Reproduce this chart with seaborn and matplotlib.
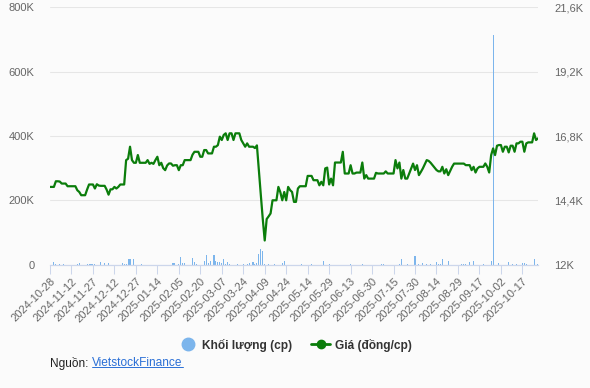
import matplotlib
matplotlib.use("Agg")
import matplotlib.pyplot as plt
import seaborn as sns
import numpy as np
from matplotlib.lines import Line2D

# tick labels shown on the x axis (one every 11 sessions)
tick_labels = ["2024-10-28", "2024-11-12", "2024-11-27", "2024-12-12", "2024-12-27",
               "2025-01-14", "2025-02-05", "2025-02-20", "2025-03-07", "2025-03-24",
               "2025-04-09", "2025-04-24", "2025-05-14", "2025-05-29", "2025-06-13",
               "2025-06-30", "2025-07-15", "2025-07-30", "2025-08-14", "2025-08-29",
               "2025-09-17", "2025-10-02", "2025-10-17"]
tick_step = 11

# closing price (dong/cp), one value per session
price = [
    14900, 14900, 14900, 15110, 15110, 15100, 15025, 15025, 15025, 14925,
    14925, 14925, 14925, 14925, 14775, 14710, 14590, 14590, 14590, 14800,
    14990, 14990, 14990, 14840, 15000, 14950, 14940, 14940, 14940, 14800,
    14610, 14810, 14810, 14900, 14840, 14900, 14990, 14990, 14990, 15900,
    15950, 16400, 15900, 15800, 15800, 16090, 15800, 15800, 15800, 15800,
    15900, 15760, 15800, 15760, 15900, 16025, 15710, 15800, 15600, 15525,
    15700, 15775, 15775, 15690, 15710, 15710, 15525, 15710, 15710, 15900,
    15900, 15900, 15900, 16100, 16210, 16210, 16210, 16025, 16025, 16275,
    16275, 16150, 16150, 16150, 16400, 16400, 16460, 16775, 16650, 16840,
    16900, 16650, 16900, 16900, 16650, 16900, 16900, 16900, 16650, 16525,
    16400, 16525, 16400, 16400, 16400, 16350, 16450, 15500, 14600, 13700,
    12900, 13700, 13800, 13910, 14400, 14400, 14400, 14900, 14700, 14400,
    14710, 14400, 14900, 14780, 14710, 14340, 14340, 14840, 14925, 14925,
    14925, 14925, 15310, 15310, 15310, 15150, 15150, 15150, 14960, 15090,
    14960, 15590, 15620, 14990, 15210, 14960, 15810, 15810, 15810, 15810,
    16210, 15400, 15400, 15400, 15710, 15400, 15400, 15435, 15435, 15435,
    15810, 15210, 15340, 15210, 15210, 15210, 15210, 15425, 15400, 15400,
    15400, 15400, 15480, 15400, 15400, 15400, 15400, 15900, 15590, 15810,
    15210, 15530, 15210, 15210, 15400, 15590, 15770, 15530, 15710, 15340,
    15460, 15590, 15750, 15900, 15870, 15800, 15710, 15620, 15530, 15480,
    15480, 15650, 15400, 15560, 15340, 15500, 15650, 15770, 15770, 15770,
    15770, 15770, 15770, 15712, 15712, 15712, 15525, 15650, 15437, 15590,
    15650, 15650, 15650, 15775, 15650, 15437, 16087, 16337, 16087, 16437,
    16462, 16462, 16212, 16400, 16400, 16187, 16437, 16437, 16212, 16525,
    16525, 16587, 16587, 16212, 16525, 16562, 16562, 16562, 16900, 16650,
    16712,
]

# traded volume, thousands of shares (0 = too small to see)
volume_k = [
    0, 0, 9, 3, 0, 3, 0, 3, 0, 0,
    0, 0, 0, 0, 3, 6, 0, 0, 0, 3,
    3, 3, 3, 3, 0, 0, 9, 0, 6, 0,
    6, 0, 0, 0, 0, 0, 0, 6, 3, 3,
    16, 16, 0, 16, 0, 0, 0, 3, 0, 0,
    0, 0, 0, 0, 0, 0, 0, 0, 0, 0,
    0, 0, 0, 6, 6, 0, 3, 25, 6, 6,
    0, 0, 0, 19, 9, 3, 0, 0, 0, 12,
    31, 6, 12, 0, 31, 12, 9, 9, 6, 16,
    3, 9, 3, 0, 0, 0, 3, 0, 0, 3,
    0, 3, 6, 0, 9, 3, 6, 34, 50, 41,
    3, 0, 3, 0, 0, 3, 0, 0, 0, 6,
    12, 0, 0, 0, 0, 0, 0, 0, 0, 3,
    0, 0, 0, 0, 3, 0, 0, 0, 0, 0,
    12, 0, 0, 3, 0, 0, 0, 0, 0, 0,
    0, 0, 0, 0, 3, 0, 0, 0, 0, 0,
    3, 0, 0, 0, 0, 0, 0, 0, 0, 0,
    3, 3, 0, 0, 0, 0, 0, 0, 0, 3,
    16, 0, 0, 3, 0, 0, 0, 28, 0, 3,
    0, 6, 0, 3, 0, 3, 0, 0, 9, 3,
    3, 16, 0, 0, 12, 0, 0, 0, 0, 0,
    0, 3, 3, 3, 0, 9, 0, 12, 0, 0,
    0, 0, 3, 0, 0, 0, 12, 715, 0, 0,
    6, 0, 0, 0, 0, 9, 0, 3, 0, 3,
    0, 0, 6, 6, 3, 0, 0, 0, 16, 0,
    3,
]

vol_ticks = [0, 200000, 400000, 600000, 800000]
vol_tick_labels = ["0", "200K", "400K", "600K", "800K"]
price_ticks = [12000, 14400, 16800, 19200, 21600]
price_tick_labels = ["12K", "14,4K", "16,8K", "19,2K", "21,6K"]

bg = "#fbfbfb"
green = "#0b7d0b"
blue = "#7cb5ec"
axis_col = "#ccd6eb"

sns.set_theme(style="white")
plt.rcParams["font.family"] = ["Liberation Sans", "DejaVu Sans"]

idx = np.arange(len(price))
volume = np.array(volume_k) * 1000

fig = plt.figure(figsize=(5.9, 3.88), dpi=100, facecolor=bg)
ax = fig.add_axes([50 / 590, 1 - 264.6 / 388, 488 / 590, (264.6 - 7.4) / 388])
ax.set_facecolor(bg)
ax2 = ax.twinx()

# volume bars on the left axis
ax.bar(idx, volume, width=0.55, color=blue, linewidth=0, antialiased=False, zorder=2)
ax.set_ylim(0, 800000)
ax.set_yticks(vol_ticks)
ax.set_yticklabels(vol_tick_labels)
ax.grid(axis="y", color="#e6e6e6", linewidth=0.75, zorder=0)
ax.set_axisbelow(True)

# price line on the right axis
sns.lineplot(x=idx, y=price, ax=ax2, color=green, linewidth=1.6)
ax2.set_ylim(12000, 21600)
ax2.set_yticks(price_ticks)
ax2.set_yticklabels(price_tick_labels)

ax.set_xlim(0, len(price) - 1)
ax.set_xticks(idx[::tick_step][:len(tick_labels)])
ax.set_xticklabels(tick_labels, rotation=45, ha="right", va="top",
                   rotation_mode="anchor")

for a in (ax, ax2):
    for s in a.spines.values():
        s.set_visible(False)
    a.set_xlabel("")
    a.set_ylabel("")
ax.spines["bottom"].set_visible(True)
ax.spines["bottom"].set_color(axis_col)
ax.spines["bottom"].set_linewidth(0.9)

ax.tick_params(axis="x", length=6.5, width=0.75, color=axis_col, colors="#666666",
               labelsize=8, pad=2, bottom=True)
ax.tick_params(axis="x", color=axis_col)
ax.tick_params(axis="y", length=0, pad=11, labelsize=8, labelcolor="#666666")
ax2.tick_params(axis="y", length=0, pad=11.5, labelsize=8, labelcolor="#666666")

# legend
handles = [
    Line2D([], [], marker="o", linestyle="none", markersize=9, color=blue),
    Line2D([], [], marker="o", markersize=6, color=green, linewidth=2),
]
fig.legend(handles, ["Khối lượng (cp)", "Giá (đồng/cp)"], loc="center",
           bbox_to_anchor=(0.5, 1 - 345 / 388), ncol=2, frameon=False,
           prop={"weight": "bold", "size": 8.6}, labelcolor="#333333",
           handlelength=1.6, handletextpad=0.4, columnspacing=1.6)

# source line
fig.text(50 / 590, 1 - 363 / 388, "Nguồn:", fontsize=8.6, color="#222222",
         va="center", ha="left")
link = fig.text(92 / 590, 1 - 363 / 388, "VietstockFinance", fontsize=8.6,
                color="#2a6fd6", va="center", ha="left")
fig.canvas.draw()
bb = link.get_window_extent().transformed(fig.transFigure.inverted())
fig.add_artist(Line2D([bb.x0, bb.x1], [bb.y0 + 0.004, bb.y0 + 0.004],
                      color="#2a6fd6", linewidth=0.7, transform=fig.transFigure))

fig.savefig("out.png", dpi=100, facecolor=bg)
